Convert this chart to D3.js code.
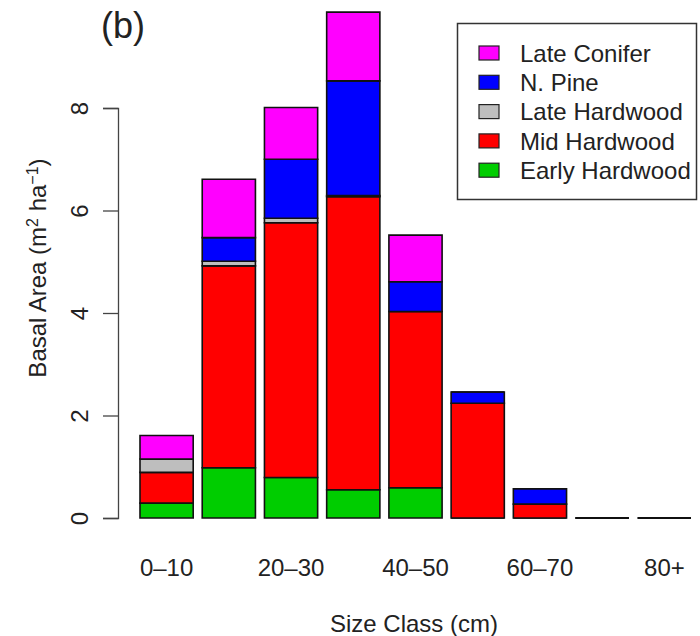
<!DOCTYPE html>
<html>
<head>
<meta charset="utf-8">
<script src="https://cdn.jsdelivr.net/npm/d3@7"></script>
<style>
  body { margin: 0; background: #fff; }
  text { font-family: "Liberation Sans", Arial, sans-serif; fill: #222; }
</style>
</head>
<body>
<div id="chart"></div>
<script>
// size classes (cm)
var categories = ['0-10', '10-20', '20-30', '30-40', '40-50', '50-60', '60-70', '70-80', '80+'];
// basal area per group, bottom to top of each stack
var earlyHardwood = [0.29, 0.98, 0.79, 0.55, 0.59, 0, 0, 0, 0];
var midHardwood = [0.60, 3.94, 4.97, 5.72, 3.44, 2.24, 0.27, 0, 0];
var lateHardwood = [0.26, 0.09, 0.09, 0.02, 0, 0, 0, 0, 0];
var nPine = [0, 0.46, 1.15, 2.24, 0.58, 0.22, 0.30, 0, 0];
var lateConifer = [0.46, 1.14, 1.01, 1.34, 0.91, 0, 0, 0, 0];
var groups = ['Early Hardwood', 'Mid Hardwood', 'Late Hardwood', 'N. Pine', 'Late Conifer'];
var groupColors = ['#00cd00', '#ff0000', '#bebebe', '#0000ff', '#ff00ff'];
var yTicks = [0, 2, 4, 6, 8];
var xTickLabels = ['0-10', '20-30', '40-50', '60-70', '80+'];

var width = 700;
var height = 636;

var rows = categories.map(function (c, i) {
  return {
    cat: c,
    'Early Hardwood': earlyHardwood[i],
    'Mid Hardwood': midHardwood[i],
    'Late Hardwood': lateHardwood[i],
    'N. Pine': nPine[i],
    'Late Conifer': lateConifer[i]
  };
});

var svg = d3.select('#chart').append('svg')
  .attr('width', width)
  .attr('height', height);

var x = d3.scaleBand()
  .domain(categories)
  .range([140, 691])
  .paddingInner(0.145)
  .paddingOuter(0);

var y = d3.scaleLinear()
  .domain([0, 8])
  .range([518, 108]);

var color = d3.scaleOrdinal().domain(groups).range(groupColors);

var series = d3.stack().keys(groups)(rows);

// bars: paths so that zero-height segments still show as a line
svg.append('g')
  .selectAll('g')
  .data(series)
  .enter()
  .append('g')
  .attr('fill', function (d) { return color(d.key); })
  .selectAll('path')
  .data(function (d) { return d; })
  .enter()
  .append('path')
  .attr('d', function (d) {
    var x0 = x(d.data.cat);
    var w = x.bandwidth();
    var y0 = y(d[0]);
    var y1 = y(d[1]);
    return 'M' + x0 + ',' + y0 + 'H' + (x0 + w) + 'V' + y1 + 'H' + x0 + 'Z';
  })
  .attr('stroke', '#111')
  .attr('stroke-width', 1.6);

// y axis
var yAxis = svg.append('g')
  .attr('transform', 'translate(118,0)')
  .call(d3.axisLeft(y).tickValues(yTicks).tickSize(15).tickFormat(d3.format('d')));
yAxis.select('.domain').attr('stroke', '#444').attr('stroke-width', 1.3);
yAxis.selectAll('.tick line').attr('stroke', '#444').attr('stroke-width', 1.3);
yAxis.selectAll('.tick text')
  .attr('x', null).attr('dy', null)
  .attr('transform', 'translate(-38,0) rotate(-90)')
  .attr('text-anchor', 'middle')
  .attr('dy', '0.35em')
  .style('font-size', '24px')
  .style('font-family', '"Liberation Sans", Arial, sans-serif')
  .attr('fill', '#222');

// x axis: labels only, every other class
var xAxis = svg.append('g')
  .attr('transform', 'translate(0,556)')
  .call(d3.axisBottom(x).tickValues(xTickLabels).tickSize(0)
    .tickFormat(function (d) { return d.replace('-', '\u2013'); }));
xAxis.select('.domain').remove();
xAxis.selectAll('.tick text')
  .attr('dy', '0.71em')
  .style('font-size', '24px')
  .style('font-family', '"Liberation Sans", Arial, sans-serif')
  .attr('fill', '#222');

// axis titles
svg.append('text')
  .attr('x', 414)
  .attr('y', 632)
  .attr('text-anchor', 'middle')
  .style('font-size', '24px')
  .text('Size Class (cm)');

var yTitle = svg.append('text')
  .attr('transform', 'translate(46,268) rotate(-90)')
  .attr('text-anchor', 'middle')
  .style('font-size', '24px');
yTitle.append('tspan').text('Basal Area (m');
yTitle.append('tspan').attr('baseline-shift', 'super').style('font-size', '16px').text('2');
yTitle.append('tspan').text(' ha');
yTitle.append('tspan').attr('baseline-shift', 'super').style('font-size', '16px').text('\u22121');
yTitle.append('tspan').text(')');

// panel letter
svg.append('text')
  .attr('x', 101)
  .attr('y', 38)
  .style('font-size', '36px')
  .text('(b)');

// legend
var legend = svg.append('g');
legend.append('rect')
  .attr('x', 457.5)
  .attr('y', 23.5)
  .attr('width', 239)
  .attr('height', 176)
  .attr('fill', '#fff')
  .attr('stroke', '#333')
  .attr('stroke-width', 1.5);

var legendItems = groups.slice().reverse();
var item = legend.selectAll('.item')
  .data(legendItems)
  .enter()
  .append('g')
  .attr('class', 'item')
  .attr('transform', function (d, i) { return 'translate(0,' + (53 + i * 29.3) + ')'; });
item.append('rect')
  .attr('x', 479)
  .attr('y', -7)
  .attr('width', 20)
  .attr('height', 14)
  .attr('fill', function (d) { return color(d); })
  .attr('stroke', '#222')
  .attr('stroke-width', 1.2);
item.append('text')
  .attr('x', 520)
  .attr('dy', '0.36em')
  .style('font-size', '24px')
  .text(function (d) { return d; });
</script>
</body>
</html>
